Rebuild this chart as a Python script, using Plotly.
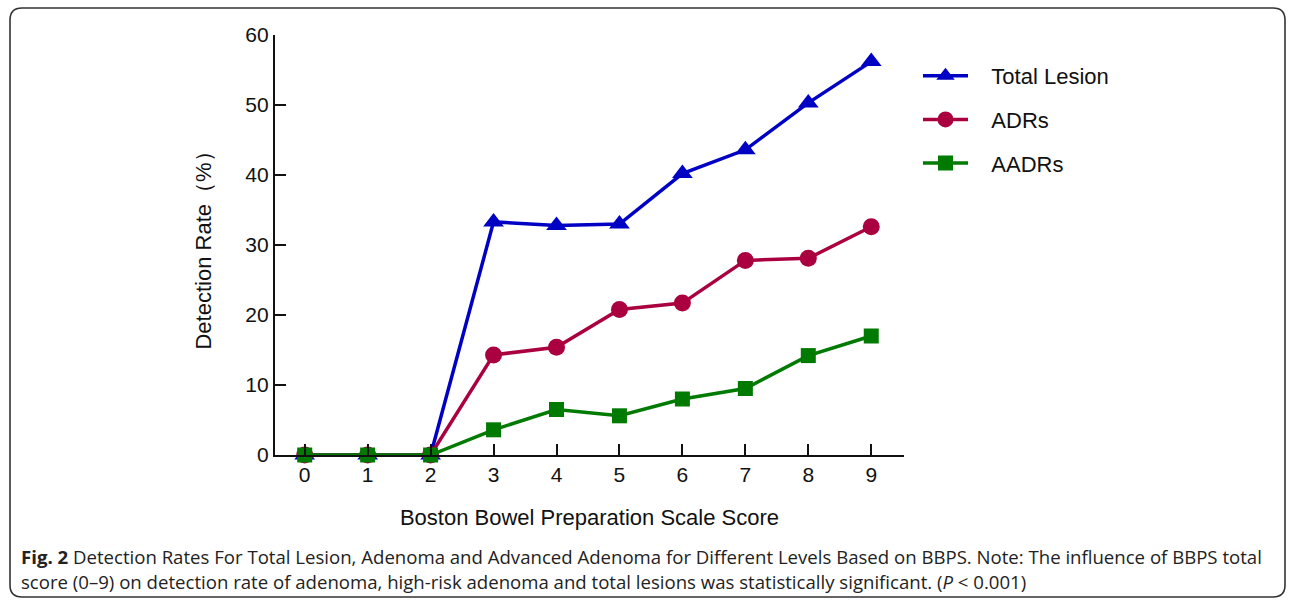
import plotly.graph_objects as go

scores = [0, 1, 2, 3, 4, 5, 6, 7, 8, 9]
tick_labels = ["0", "1", "2", "3", "4", "5", "6", "7", "8", "9"]
total_lesion = [0, 0, 0, 33.3, 32.8, 33.0, 40.2, 43.6, 50.3, 56.2]
adrs = [0, 0, 0, 14.3, 15.4, 20.8, 21.7, 27.8, 28.1, 32.6]
aadrs = [0, 0, 0, 3.6, 6.5, 5.6, 8.0, 9.5, 14.2, 17.0]

W, H = 1295, 605
L, R, T, B = 275, 904, 35, 455  # plot area in px


def px(x):
    return (x - L) / (R - L)


def py(y):
    return (B - y) / (B - T)


NB = "\u00a0\u00a0\u00a0"

fig = go.Figure()
fig.add_trace(go.Scatter(
    x=scores, y=total_lesion, name=NB + "Total Lesion", mode="lines+markers",
    line=dict(color="#0000C4", width=3.5),
    marker=dict(symbol="triangle-up", size=18, color="#0000C4"),
    cliponaxis=False, legendgroup="a"))
fig.add_trace(go.Scatter(
    x=scores, y=adrs, name=NB + "ADRs", mode="lines+markers",
    line=dict(color="#AA0040", width=3.5),
    marker=dict(symbol="circle", size=17, color="#AA0040"),
    cliponaxis=False, legendgroup="b"))
fig.add_trace(go.Scatter(
    x=scores, y=aadrs, name=NB + "AADRs", mode="lines+markers",
    line=dict(color="#007A00", width=3.5),
    marker=dict(symbol="square", size=15, color="#007A00"),
    cliponaxis=False, legendgroup="c"))

tick_font = dict(family="Liberation Sans, Arial, sans-serif", size=21, color="#111")
title_font = dict(family="Liberation Sans, Arial, sans-serif", size=22, color="#111")

x0 = 304.7
step = 62.95
fig.update_xaxes(
    range=[(L - x0) / step, (R - x0) / step],
    tickvals=scores, ticktext=tick_labels,
    ticks="inside", ticklen=11, tickwidth=2, tickcolor="#111",
    showline=True, linecolor="#111", linewidth=2.2,
    showgrid=False, zeroline=False,
    tickfont=tick_font,
    title=dict(text="Boston Bowel Preparation Scale Score", font=title_font, standoff=24),
)
fig.update_yaxes(
    range=[0, 60], tickvals=[0, 10, 20, 30, 40, 50, 60],
    ticks="inside", ticklen=11, tickwidth=2, tickcolor="#111",
    showline=True, linecolor="#111", linewidth=2.2,
    showgrid=False, zeroline=False,
    tickfont=tick_font,
    title=dict(text="Detection Rate（%）", font=title_font, standoff=28),
)

# rounded border
x_a, x_b = px(10), px(1285)
y_a, y_b = py(597), py(8)
rx, ry = 12 / (R - L), 12 / (B - T)
path = (f"M {x_a + rx} {y_b} L {x_b - rx} {y_b} Q {x_b} {y_b} {x_b} {y_b - ry} "
        f"L {x_b} {y_a + ry} Q {x_b} {y_a} {x_b - rx} {y_a} "
        f"L {x_a + rx} {y_a} Q {x_a} {y_a} {x_a} {y_a + ry} "
        f"L {x_a} {y_b - ry} Q {x_a} {y_b} {x_a + rx} {y_b} Z")
fig.add_shape(type="path", path=path, xref="paper", yref="paper",
              line=dict(color="#333", width=1.6), layer="below")

cap_font = dict(family="Open Sans, sans-serif", size=18.6, color="#222")
fig.add_annotation(
    xref="paper", yref="paper", x=px(19), y=py(556), xanchor="left", yanchor="middle",
    showarrow=False, align="left", font=cap_font,
    text="<b>Fig. 2</b> Detection Rates For Total Lesion, Adenoma and Advanced Adenoma for Different Levels Based on BBPS. Note: The influence of BBPS total")
fig.add_annotation(
    xref="paper", yref="paper", x=px(19), y=py(581), xanchor="left", yanchor="middle",
    showarrow=False, align="left", font=cap_font,
    text="score (0–9) on detection rate of adenoma, high-risk adenoma and total lesions was statistically significant. (<i>P</i> < 0.001)")

fig.update_layout(
    width=W, height=H,
    margin=dict(l=L, r=W - R, t=T, b=H - B),
    paper_bgcolor="white", plot_bgcolor="white",
    showlegend=True,
    legend=dict(x=px(918), y=py(55), xanchor="left", yanchor="top",
                font=dict(family="Liberation Sans, Arial, sans-serif", size=22, color="#111"),
                tracegroupgap=12, itemwidth=45, bgcolor="rgba(0,0,0,0)"),
)

fig.write_html("out.html", config={"displayModeBar": False},
               post_script="document.body.style.margin='0';")
